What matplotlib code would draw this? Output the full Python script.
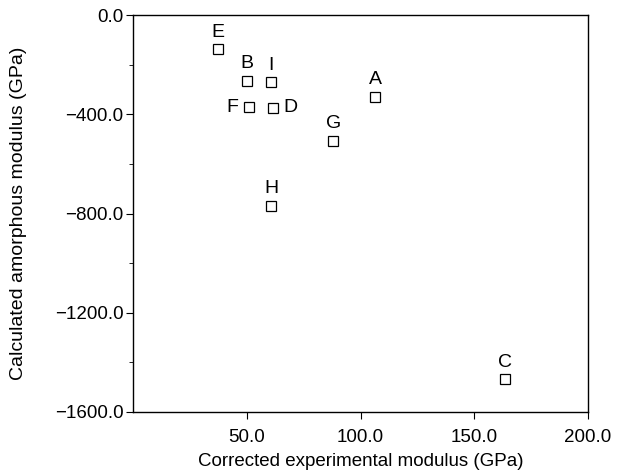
import matplotlib
matplotlib.use('Agg')
import matplotlib.pyplot as plt
from matplotlib.ticker import MultipleLocator, FuncFormatter

labels = ['A', 'B', 'C', 'D', 'E', 'F', 'G', 'H', 'I']
exp_modulus = [106.4, 50.0, 163.5, 61.4, 37.5, 51.0, 88.1, 60.7, 60.7]
amorph_modulus = [-329, -265, -1467, -374, -138, -372, -507, -768, -270]
# where the letter sits relative to its marker
label_pos = {'F': 'left', 'D': 'right'}

plt.rcParams['font.family'] = ['Liberation Sans', 'DejaVu Sans']

def fmt(v, pos):
    s = '%.1f' % abs(v)
    return ('\u2212' + s) if v < 0 else s

fig = plt.figure(figsize=(6.25, 4.71), dpi=100)
ax = fig.add_axes([133/625., 1 - 412/471., (588-133)/625., (412-15)/471.])

ax.plot(exp_modulus, amorph_modulus, linestyle='none', marker='s', markersize=7,
        markerfacecolor='white', markeredgecolor='black', markeredgewidth=0.9)

for lab, x, y in zip(labels, exp_modulus, amorph_modulus):
    pos = label_pos.get(lab, 'top')
    if pos == 'left':
        ax.annotate(lab, (x, y), xytext=(-8, 0), textcoords='offset points',
                    ha='right', va='center', fontsize=14)
    elif pos == 'right':
        ax.annotate(lab, (x, y), xytext=(7.5, 0), textcoords='offset points',
                    ha='left', va='center', fontsize=14)
    else:
        ax.annotate(lab, (x, y), xytext=(0, 6), textcoords='offset points',
                    ha='center', va='bottom', fontsize=14)

ax.set_xlim(0, 200)
ax.set_ylim(-1600, 0)
ax.set_xticks([50, 100, 150, 200])
ax.set_yticks([0, -400, -800, -1200, -1600])
ax.yaxis.set_minor_locator(MultipleLocator(200))
ax.xaxis.set_major_formatter(FuncFormatter(fmt))
ax.yaxis.set_major_formatter(FuncFormatter(fmt))
ax.tick_params(axis='both', which='major', labelsize=13.5, length=5, direction='out', pad=2)
ax.tick_params(axis='x', which='major', pad=7)
ax.tick_params(axis='y', which='minor', length=3, direction='out')

ax.set_xlabel('Corrected experimental modulus (GPa)', fontsize=13.5, labelpad=5)
ax.set_ylabel('Calculated amorphous modulus (GPa)', fontsize=14)
ax.yaxis.set_label_coords(-0.232, 0.5)

for sp in ax.spines.values():
    sp.set_linewidth(1.0)

plt.savefig('out.png', dpi=100)
